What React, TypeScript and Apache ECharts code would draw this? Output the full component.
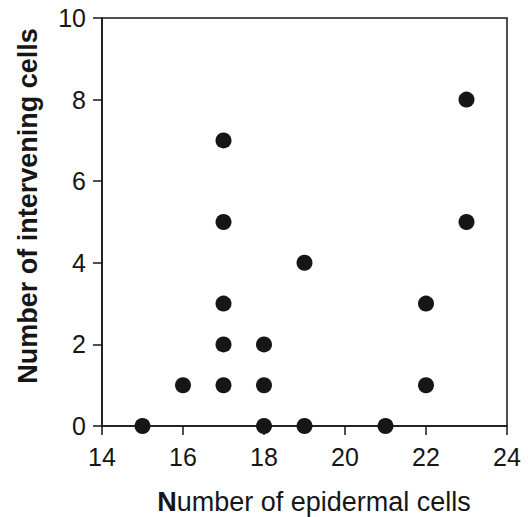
import React, { useEffect, useRef } from "react";
import * as echarts from "echarts";

const epidermalCells = [15, 16, 17, 17, 17, 17, 17, 18, 18, 18, 19, 19, 21, 22, 22, 23, 23];
const interveningCells = [0, 1, 1, 2, 3, 5, 7, 0, 1, 2, 0, 4, 0, 1, 3, 5, 8];
const xTicks = [14, 16, 18, 20, 22, 24];
const yTicks = [0, 2, 4, 6, 8, 10];
const xTitle = "Number of epidermal cells";
const yTitle = "Number of intervening cells";

export default function App() {
  const ref = useRef<HTMLDivElement>(null);
  useEffect(() => {
    const chart = echarts.init(ref.current!, null, { renderer: "svg" });
    const font = "'Liberation Sans', Arial, sans-serif";
    const ink = "#161616";
    chart.setOption({
      animation: false,
      backgroundColor: "#fff",
      grid: { left: 102, top: 18, right: 21, bottom: 91, show: true, borderColor: ink, borderWidth: 1.5, backgroundColor: "transparent" },
      xAxis: {
        type: "value",
        min: xTicks[0],
        max: xTicks[xTicks.length - 1],
        interval: 2,
        axisLine: { show: true, lineStyle: { color: ink, width: 1.5 } },
        axisTick: { show: true, inside: false, length: 9, lineStyle: { color: ink, width: 1.5 } },
        axisLabel: { fontFamily: font, fontSize: 25, color: ink, margin: 18 },
        splitLine: { show: false },
      },
      yAxis: {
        type: "value",
        min: yTicks[0],
        max: yTicks[yTicks.length - 1],
        interval: 2,
        axisLine: { show: true, lineStyle: { color: ink, width: 1.5 } },
        axisTick: { show: true, inside: false, length: 9, lineStyle: { color: ink, width: 1.5 } },
        axisLabel: { fontFamily: font, fontSize: 25, color: ink, margin: 16 },
        splitLine: { show: false },
      },
      graphic: [
        {
          type: "text",
          x: 314,
          y: 502,
          style: {
            text: "{b|" + xTitle.charAt(0) + "}" + xTitle.slice(1),
            fontFamily: font,
            fontSize: 27,
            fill: ink,
            textAlign: "center",
            textVerticalAlign: "middle",
            rich: { b: { fontFamily: font, fontSize: 27, fontWeight: "bold", color: ink } },
          },
        },
        {
          type: "text",
          x: 28,
          y: 206,
          rotation: Math.PI / 2,
          style: {
            text: yTitle,
            fontFamily: font,
            fontSize: 27,
            fontWeight: "bold",
            fill: ink,
            textAlign: "center",
            textVerticalAlign: "middle",
          },
        },
      ],
      series: [
        {
          type: "scatter",
          data: epidermalCells.map((x, i) => [x, interveningCells[i]]),
          symbol: "circle",
          symbolSize: 16,
          itemStyle: { color: ink, opacity: 1 },
          clip: false,
          z: 5,
        },
      ],
    });
    return () => chart.dispose();
  }, []);
  return <div ref={ref} style={{ position: "absolute", left: 0, top: 0, width: 528, height: 517 }} />;
}
